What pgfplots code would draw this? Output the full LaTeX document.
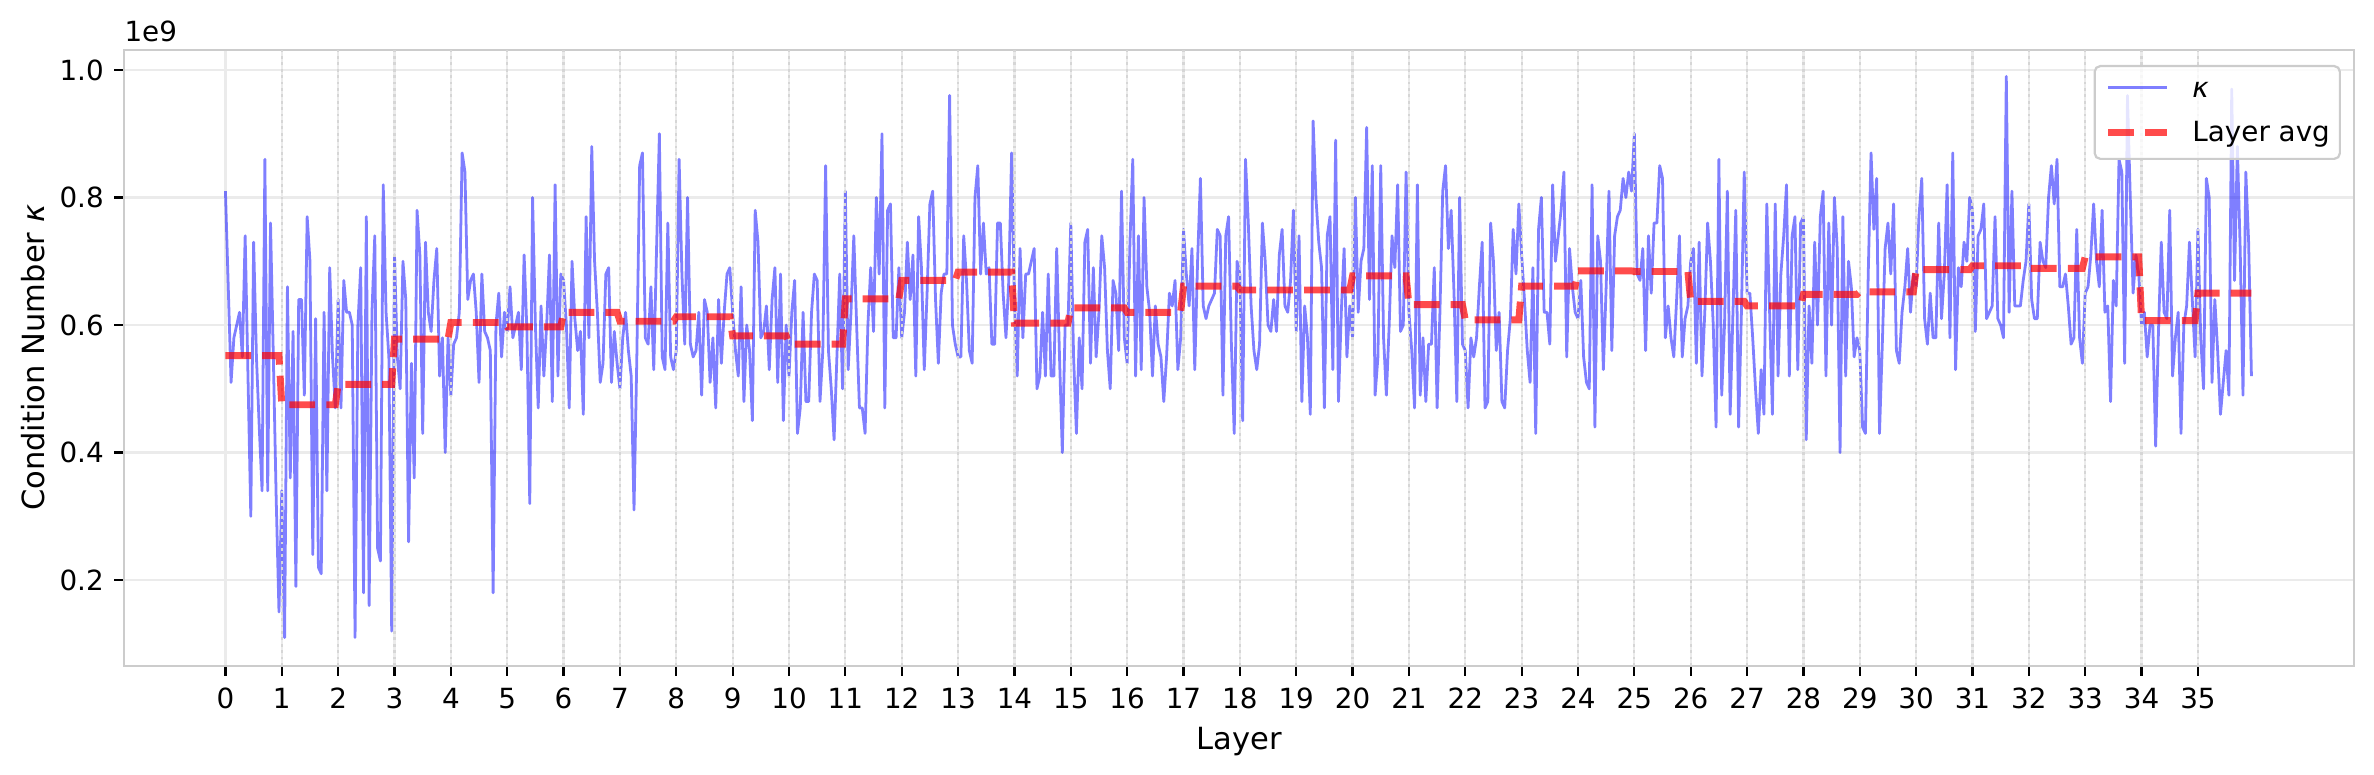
\documentclass[border=0pt]{standalone}
\usepackage{fontspec}
\setmainfont{DejaVu Sans}
\usepackage{pgfplots}
\usepackage{pgfplotstable}
\pgfplotsset{compat=1.18}

\pgfplotstableread[row sep=\\]{k\\
0.81\\0.66\\0.51\\0.58\\0.60\\0.62\\0.55\\0.74\\0.52\\0.30\\0.73\\0.55\\0.44\\0.34\\0.86\\0.34\\0.76\\0.55\\0.33\\0.15\\
0.34\\0.11\\0.66\\0.36\\0.59\\0.19\\0.64\\0.64\\0.49\\0.77\\0.70\\0.24\\0.61\\0.22\\0.21\\0.62\\0.34\\0.69\\0.55\\0.47\\
0.64\\0.47\\0.67\\0.62\\0.62\\0.60\\0.11\\0.60\\0.69\\0.18\\0.77\\0.16\\0.62\\0.74\\0.25\\0.23\\0.82\\0.62\\0.55\\0.12\\
0.71\\0.55\\0.50\\0.70\\0.64\\0.26\\0.54\\0.36\\0.78\\0.71\\0.43\\0.73\\0.62\\0.59\\0.67\\0.72\\0.52\\0.58\\0.40\\0.58\\
0.49\\0.57\\0.58\\0.62\\0.87\\0.84\\0.64\\0.67\\0.68\\0.62\\0.51\\0.68\\0.59\\0.58\\0.56\\0.18\\0.60\\0.65\\0.55\\0.62\\
0.59\\0.66\\0.58\\0.60\\0.62\\0.53\\0.71\\0.59\\0.32\\0.80\\0.60\\0.47\\0.63\\0.52\\0.60\\0.71\\0.48\\0.82\\0.52\\0.68\\
0.67\\0.60\\0.47\\0.70\\0.61\\0.56\\0.59\\0.46\\0.77\\0.58\\0.88\\0.70\\0.62\\0.51\\0.54\\0.68\\0.69\\0.51\\0.59\\0.54\\
0.50\\0.58\\0.62\\0.56\\0.52\\0.31\\0.55\\0.85\\0.87\\0.58\\0.57\\0.66\\0.53\\0.72\\0.90\\0.55\\0.53\\0.76\\0.55\\0.53\\
0.56\\0.86\\0.68\\0.57\\0.80\\0.57\\0.55\\0.56\\0.62\\0.49\\0.64\\0.62\\0.51\\0.58\\0.47\\0.64\\0.54\\0.62\\0.68\\0.69\\
0.62\\0.56\\0.52\\0.66\\0.48\\0.60\\0.56\\0.45\\0.78\\0.73\\0.58\\0.59\\0.63\\0.53\\0.64\\0.69\\0.51\\0.68\\0.45\\0.60\\
0.52\\0.62\\0.67\\0.43\\0.47\\0.62\\0.48\\0.48\\0.62\\0.68\\0.67\\0.48\\0.56\\0.85\\0.56\\0.50\\0.42\\0.55\\0.68\\0.50\\
0.81\\0.53\\0.62\\0.74\\0.60\\0.47\\0.47\\0.43\\0.60\\0.69\\0.59\\0.80\\0.68\\0.90\\0.47\\0.78\\0.79\\0.58\\0.58\\0.69\\
0.58\\0.62\\0.73\\0.64\\0.71\\0.52\\0.77\\0.69\\0.53\\0.65\\0.79\\0.81\\0.64\\0.54\\0.65\\0.68\\0.68\\0.96\\0.60\\0.57\\
0.55\\0.55\\0.74\\0.67\\0.56\\0.54\\0.80\\0.85\\0.68\\0.76\\0.68\\0.69\\0.57\\0.57\\0.76\\0.76\\0.65\\0.58\\0.67\\0.87\\
0.64\\0.52\\0.72\\0.58\\0.68\\0.68\\0.70\\0.72\\0.50\\0.52\\0.62\\0.52\\0.68\\0.52\\0.52\\0.72\\0.55\\0.40\\0.60\\0.60\\
0.76\\0.55\\0.43\\0.58\\0.50\\0.73\\0.75\\0.54\\0.69\\0.55\\0.62\\0.74\\0.69\\0.56\\0.50\\0.67\\0.65\\0.56\\0.81\\0.58\\
0.54\\0.73\\0.86\\0.52\\0.74\\0.53\\0.80\\0.66\\0.62\\0.52\\0.63\\0.57\\0.55\\0.48\\0.55\\0.65\\0.63\\0.67\\0.53\\0.58\\
0.75\\0.68\\0.63\\0.72\\0.53\\0.70\\0.83\\0.63\\0.61\\0.63\\0.64\\0.65\\0.75\\0.74\\0.49\\0.74\\0.77\\0.57\\0.43\\0.70\\
0.68\\0.45\\0.86\\0.76\\0.63\\0.56\\0.53\\0.57\\0.76\\0.70\\0.60\\0.59\\0.64\\0.59\\0.71\\0.75\\0.63\\0.62\\0.67\\0.78\\
0.59\\0.74\\0.48\\0.63\\0.58\\0.46\\0.92\\0.80\\0.73\\0.69\\0.47\\0.74\\0.77\\0.53\\0.89\\0.48\\0.62\\0.72\\0.55\\0.63\\
0.58\\0.80\\0.62\\0.70\\0.72\\0.91\\0.64\\0.85\\0.49\\0.55\\0.85\\0.58\\0.49\\0.60\\0.74\\0.69\\0.82\\0.59\\0.60\\0.84\\
0.62\\0.56\\0.47\\0.82\\0.49\\0.58\\0.48\\0.57\\0.57\\0.69\\0.47\\0.62\\0.81\\0.85\\0.72\\0.78\\0.65\\0.48\\0.80\\0.57\\
0.56\\0.47\\0.58\\0.55\\0.58\\0.66\\0.73\\0.47\\0.48\\0.76\\0.70\\0.56\\0.62\\0.48\\0.47\\0.56\\0.61\\0.75\\0.68\\0.79\\
0.71\\0.64\\0.56\\0.51\\0.69\\0.43\\0.75\\0.80\\0.62\\0.62\\0.57\\0.82\\0.70\\0.74\\0.78\\0.84\\0.55\\0.72\\0.66\\0.62\\
0.61\\0.67\\0.55\\0.51\\0.50\\0.82\\0.44\\0.74\\0.70\\0.53\\0.66\\0.81\\0.56\\0.74\\0.77\\0.78\\0.83\\0.80\\0.84\\0.81\\
0.90\\0.68\\0.67\\0.72\\0.56\\0.74\\0.65\\0.76\\0.76\\0.85\\0.83\\0.58\\0.63\\0.58\\0.55\\0.64\\0.74\\0.55\\0.61\\0.63\\
0.70\\0.72\\0.54\\0.73\\0.52\\0.62\\0.76\\0.70\\0.60\\0.44\\0.86\\0.49\\0.60\\0.81\\0.46\\0.62\\0.78\\0.44\\0.62\\0.84\\
0.65\\0.65\\0.58\\0.50\\0.43\\0.53\\0.46\\0.79\\0.62\\0.46\\0.79\\0.52\\0.68\\0.74\\0.82\\0.52\\0.74\\0.77\\0.53\\0.76\\
0.77\\0.42\\0.63\\0.54\\0.73\\0.60\\0.77\\0.81\\0.52\\0.76\\0.60\\0.80\\0.72\\0.40\\0.77\\0.52\\0.70\\0.66\\0.55\\0.58\\
0.56\\0.44\\0.43\\0.68\\0.87\\0.75\\0.83\\0.43\\0.57\\0.72\\0.76\\0.68\\0.79\\0.56\\0.54\\0.62\\0.66\\0.72\\0.62\\0.68\\
0.66\\0.77\\0.83\\0.61\\0.57\\0.65\\0.58\\0.58\\0.76\\0.61\\0.68\\0.82\\0.58\\0.87\\0.53\\0.69\\0.66\\0.73\\0.70\\0.80\\
0.78\\0.59\\0.74\\0.75\\0.79\\0.61\\0.62\\0.63\\0.77\\0.61\\0.60\\0.58\\0.99\\0.62\\0.81\\0.63\\0.63\\0.63\\0.67\\0.70\\
0.79\\0.64\\0.61\\0.61\\0.73\\0.70\\0.69\\0.80\\0.85\\0.79\\0.86\\0.66\\0.66\\0.68\\0.63\\0.57\\0.58\\0.75\\0.58\\0.54\\
0.65\\0.66\\0.71\\0.79\\0.70\\0.66\\0.78\\0.62\\0.63\\0.48\\0.67\\0.63\\0.86\\0.84\\0.54\\0.96\\0.80\\0.65\\0.71\\0.68\\
0.60\\0.62\\0.55\\0.60\\0.60\\0.41\\0.59\\0.73\\0.62\\0.61\\0.78\\0.52\\0.58\\0.62\\0.43\\0.60\\0.63\\0.73\\0.64\\0.55\\
0.75\\0.58\\0.50\\0.83\\0.80\\0.51\\0.64\\0.56\\0.46\\0.51\\0.56\\0.49\\0.97\\0.67\\0.88\\0.72\\0.49\\0.84\\0.73\\0.52\\
}\kappadata

\pgfplotstableread[row sep=\\]{x y\\
0 0.552\\ 0.95 0.552\\ 1 0.475\\ 1.95 0.475\\ 2 0.507\\ 2.95 0.507\\
3 0.578\\ 3.95 0.578\\ 4 0.604\\ 4.95 0.604\\ 5 0.597\\ 5.95 0.597\\
6 0.620\\ 6.95 0.620\\ 7 0.606\\ 7.95 0.606\\ 8 0.613\\ 8.95 0.613\\
9 0.583\\ 9.95 0.583\\ 10 0.570\\ 10.95 0.570\\ 11 0.641\\ 11.95 0.641\\
12 0.670\\ 12.95 0.670\\ 13 0.683\\ 13.95 0.683\\ 14 0.603\\ 14.95 0.603\\
15 0.627\\ 15.95 0.627\\ 16 0.620\\ 16.95 0.620\\ 17 0.661\\ 17.95 0.661\\
18 0.655\\ 18.95 0.655\\ 19 0.655\\ 19.95 0.655\\ 20 0.677\\ 20.95 0.677\\
21 0.632\\ 21.95 0.632\\ 22 0.608\\ 22.95 0.608\\ 23 0.661\\ 23.95 0.661\\
24 0.685\\ 24.95 0.685\\ 25 0.684\\ 25.95 0.684\\ 26 0.637\\ 26.95 0.637\\
27 0.630\\ 27.95 0.630\\ 28 0.648\\ 28.95 0.648\\ 29 0.652\\ 29.95 0.652\\
30 0.687\\ 30.95 0.687\\ 31 0.693\\ 31.95 0.693\\ 32 0.689\\ 32.95 0.689\\
33 0.707\\ 33.95 0.707\\ 34 0.607\\ 34.95 0.607\\ 35 0.650\\ 35.95 0.650\\
}\avgdata

\begin{document}
\begin{tikzpicture}
\begin{axis}[
  name=ax,
  at={(0,0)}, anchor=south west,
  scale only axis, width=802.8bp, height=221.7bp,
  xmin=-1.80, xmax=37.77, ymin=0.0656, ymax=1.0314,
  xtick={0,...,35}, ytick={0.2,0.4,0.6,0.8,1.0},
  xtick pos=bottom, ytick pos=left,
  /pgf/number format/assume math mode=true,
  yticklabel style={/pgf/number format/fixed, /pgf/number format/fixed zerofill, /pgf/number format/precision=1, xshift=-3.6bp},
  xticklabel style={yshift=-4.24bp},
  tick align=outside, major tick length=3.5bp,
  tick style={black, line width=0.8bp},
  axis line style={draw=black!20, line width=0.8bp},
  grid=major, major grid style={draw=black!8, line width=0.8bp},
  every tick label/.append style={font=\fontsize{10bp}{12bp}\selectfont, inner sep=0pt},
  xlabel={Layer}, ylabel={Condition Number \textit{κ}},
  xlabel style={at={(axis description cs:0.5,-0.09878)}, anchor=north, inner sep=0pt, font=\fontsize{11bp}{13bp}\selectfont},
  ylabel style={at={(axis description cs:-0.04634,0.5)}, anchor=north, inner sep=0pt, font=\fontsize{11bp}{13bp}\selectfont},
  legend cell align=left,
  legend image code/.code={\draw[#1] (0bp,3.5bp) -- (21.2bp,3.5bp);},
  legend style={at={(rel axis cs:1,1)}, anchor=north east, xshift=-4.7bp, yshift=-5.4bp,
    draw=black!20, line width=0.8bp, rounded corners=2bp,
    fill=white, fill opacity=0.8, draw opacity=1, text opacity=1,
    inner xsep=3.6bp, inner ysep=3.7bp, row sep=6bp, column sep=7.9bp,
    font=\fontsize{10bp}{12bp}\selectfont,
    nodes={inner sep=0pt, text height=7.6bp, text depth=2.4bp, anchor=base west}},
]
\addplot[color=blue, draw opacity=0.5, line width=1bp, line join=round] table[x expr=\coordindex/20, y=k] {\kappadata};
\addlegendentry{\textit{κ}}
\pgfplotsinvokeforeach{1,...,35}{
  \draw[black!16, line width=0.8bp, dash pattern=on 1bp off 1.3bp] ({axis cs:#1,0}|-{rel axis cs:0,0}) -- ({axis cs:#1,0}|-{rel axis cs:0,1});
}
\addplot[color=red, opacity=0.7, line width=2.5bp, dash pattern=on 9.25bp off 4bp] table[x=x, y=y] {\avgdata};
\addlegendentry{Layer avg}
\end{axis}
\node[anchor=base west, inner sep=0pt, font=\fontsize{10bp}{12bp}\selectfont] at ([yshift=3bp]ax.north west) {1e9};
\pgfresetboundingbox
\path[use as bounding box] (-44.64bp,-38.95bp) rectangle (810.0bp,239.69bp);
\end{tikzpicture}
\end{document}
